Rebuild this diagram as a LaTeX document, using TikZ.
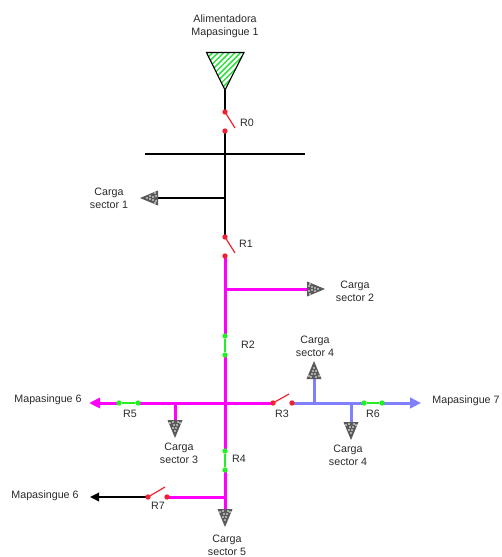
\documentclass[tikz,border=0pt]{standalone}
\usepackage{fontspec}
\setmainfont{Liberation Sans}
\usetikzlibrary{arrows.meta,backgrounds}
\definecolor{busblue}{HTML}{8080FF}
\definecolor{busmag}{HTML}{FF00FF}
\definecolor{closedgreen}{HTML}{22F022}
\definecolor{hatchgreen}{HTML}{30E040}
\definecolor{opred}{HTML}{F02030}
\definecolor{loadgray}{HTML}{5A5A5A}
\definecolor{txt}{HTML}{2A2A2A}
\tikzset{
  lbl/.style={font=\fontsize{10.7}{13}\selectfont,text=txt,inner sep=0pt,align=center},
  blackbus/.style={draw=black,line width=1.8pt},
  magbus/.style={draw=busmag,line width=3pt},
  bluebus/.style={draw=busblue,line width=3pt},
  closedsw/.style={draw=closedgreen,line width=1.6pt},
  blade/.style={draw=opred,line width=1.2pt},
  reddot/.style={circle,fill=opred,draw=none,minimum size=5.4pt,inner sep=0pt},
  greendot/.style={circle,fill=closedgreen,draw=none,minimum size=5.4pt,inner sep=0pt},
  pics/loadtip/.style={code={
    \fill[loadgray] (0,-7.5) -- (18,0) -- (0,7.5) -- cycle;
    \foreach \a/\b in {2/-3,2/2,5/-2,5/1,8/-1,8/2,11/0,3/-5,3/5}
      \fill[white] (\a,\b) circle (0.8);
  }}
}
\begin{document}
\begin{tikzpicture}[x=1pt,y=-1pt]
\useasboundingbox (0,0) rectangle (501,557);
% feeder
\coordinate (fa) at (206.5,52.5);
\coordinate (fb) at (244,52.5);
\coordinate (fc) at (225,90);
\begin{scope}
  \clip (fa) -- (fb) -- (fc) -- cycle;
  \foreach \k in {-36,-30.4,...,30}
    \draw[hatchgreen,line width=1.5pt] (190+\k,100) -- (190+\k+55,45);
\end{scope}
\draw[black,line width=1.1pt,line join=miter] (fa) -- (fb) -- (fc) -- cycle;
% switch points
\node[reddot] (r0a) at (225,112) {};
\node[reddot] (r0b) at (225,131) {};
\node[reddot] (r1a) at (225,237) {};
\node[reddot] (r1b) at (225,256) {};
\node[greendot] (r2a) at (225,336) {};
\node[greendot] (r2b) at (225,355) {};
\node[greendot] (r4a) at (225,451) {};
\node[greendot] (r4b) at (225,470) {};
\node[greendot] (r5a) at (119,403) {};
\node[greendot] (r5b) at (138,403) {};
\node[greendot] (r6a) at (364,403) {};
\node[greendot] (r6b) at (382,403) {};
\node[reddot] (r3a) at (273,403) {};
\node[reddot] (r3b) at (292,403) {};
\node[reddot] (r7a) at (148,497) {};
\node[reddot] (r7b) at (167,497) {};
% junctions and ends
\coordinate (busl) at (145,154);
\coordinate (busr) at (305,154);
\coordinate (j1) at (225,198);
\coordinate (l1) at (158,198);
\coordinate (j2) at (225,289);
\coordinate (l2) at (307,289);
\coordinate (j3) at (175,403);
\coordinate (l3) at (175,421);
\coordinate (j7) at (225,497);
\coordinate (l5) at (225,510);
\coordinate (ja) at (314,403);
\coordinate (la) at (314,379);
\coordinate (jb) at (351,403);
\coordinate (lb) at (351,423);
\coordinate (el) at (89,403);
\coordinate (er) at (421,403);
\coordinate (e7) at (90,497);
\coordinate (b0) at (235,128);
\coordinate (b1) at (235,253);
\coordinate (b3) at (289,394);
\coordinate (b7) at (165,487);
\begin{pgfonlayer}{background}
% black lines
\draw[black,line width=1.1pt] (fc) -- (r0a.center);
\draw[blackbus] (r0b.center) -- (r1a.center);
\draw[black,line width=1.4pt] (busl) -- (busr);
\draw[black,line width=1.4pt] (j1) -- (l1);
\draw[black,line width=1.8pt,-{Triangle[length=9pt,width=8.5pt]}] (r7a.center) -- (e7);
% magenta
\draw[magbus] (r1b.center) -- (r2a.center);
\draw[magbus] (r2b.center) -- (r4a.center);
\draw[magbus] (r4b.center) -- (l5);
\draw[magbus] (j2) -- (l2);
\draw[magbus] (r5b.center) -- (r3a.center);
\draw[magbus,-{Triangle[length=11pt,width=10pt]}] (r5a.center) -- (el);
\draw[magbus] (j3) -- (l3);
\draw[magbus] (r7b.center) -- (j7);
% blue
\draw[bluebus] (r3b.center) -- (r6a.center);
\draw[bluebus,-{Triangle[length=11pt,width=10.5pt]}] (r6b.center) -- (er);
\draw[bluebus] (ja) -- (la);
\draw[bluebus] (jb) -- (lb);
% closed switches
\draw[closedsw] (r2a) -- (r2b);
\draw[closedsw] (r4a) -- (r4b);
\draw[closedsw] (r5a) -- (r5b);
\draw[closedsw] (r6a) -- (r6b);
% open switches
\draw[blade] (r0a.center) -- (b0);
\draw[blade] (r1a.center) -- (b1);
\draw[blade] (r3a.center) -- (b3);
\draw[blade] (r7a.center) -- (b7);
\end{pgfonlayer}
% loads
\pic at (158,198) [rotate=180] {loadtip};
\pic at (307,289) {loadtip};
\pic at (175,420) [rotate=-90] {loadtip};
\pic at (225,509) [rotate=-90] {loadtip};
\pic at (314,379) [rotate=90] {loadtip};
\pic at (351,422) [rotate=-90] {loadtip};
% labels
\node[lbl] (tfeed) at (225,26) {Alimentadora\\Mapasingue 1};
\node[lbl] (t0) at (247,123) {R0};
\node[lbl] (t1) at (246,244) {R1};
\node[lbl] (t2) at (248,345) {R2};
\node[lbl] (t3) at (282,414) {R3};
\node[lbl] (t4) at (239,459) {R4};
\node[lbl] (t5) at (130,414) {R5};
\node[lbl] (t6) at (373,414) {R6};
\node[lbl] (t7) at (158,506) {R7};
\node[lbl] (c1) at (109,198.5) {Carga\\sector 1};
\node[lbl] (c2) at (355,291.5) {Carga\\sector 2};
\node[lbl] (c3) at (179,453) {Carga\\sector 3};
\node[lbl] (c4a) at (315,346.5) {Carga\\sector 4};
\node[lbl] (c4b) at (348,455.5) {Carga\\sector 4};
\node[lbl] (c5) at (227,545.5) {Carga\\sector 5};
\node[lbl] (m6a) at (48,400) {Mapasingue 6};
\node[lbl] (m6b) at (45,496) {Mapasingue 6};
\node[lbl] (m7) at (466,401) {Mapasingue 7};
\end{tikzpicture}
\end{document}
